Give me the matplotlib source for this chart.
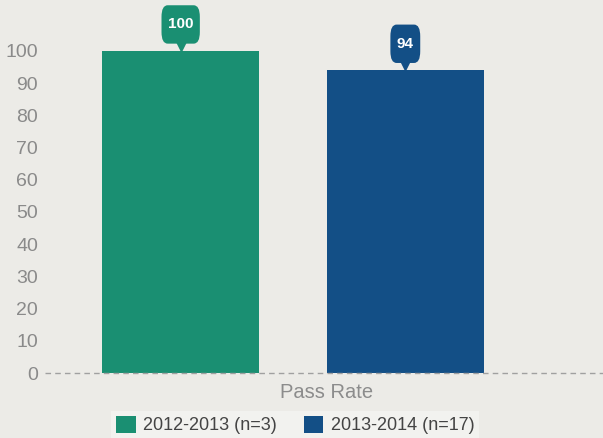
import matplotlib.pyplot as plt
import matplotlib.transforms as mtransforms
from matplotlib.patches import Patch

years = ['2012-2013 (n=3)', '2013-2014 (n=17)']
pass_rate = [100, 94]
colors = ['#1a8f72', '#134f86']
yticks = list(range(0, 101, 10))

plt.rcParams['font.family'] = ['Liberation Sans', 'DejaVu Sans']

bg = '#ecebe7'
fig = plt.figure(figsize=(6.03, 4.38), dpi=100, facecolor=bg)
ax = fig.add_axes([0.0746, 0.1484, 0.9254, 0.8516])
ax.set_facecolor(bg)

xpos = [0, 1]
bars = ax.bar(xpos, pass_rate, width=0.70, color=colors)
ax.set_xlim(-0.604, 1.88)
ax.set_ylim(0, 115.8)

ax.set_yticks(yticks)
ax.set_yticklabels([str(t) for t in yticks], fontsize=14, color='#8a8a8a')
ax.tick_params(axis='y', length=0, pad=5)
ax.set_xticks([])
for s in ax.spines.values():
    s.set_visible(False)
ax.axhline(0, color='#a0a0a0', linestyle=(0, (4, 3)), linewidth=1, clip_on=False)

# callout boxes above each bar
tri_trans = mtransforms.offset_copy(ax.transData, fig=fig, x=0, y=6, units='dots')
for x, v, c in zip(xpos, pass_rate, colors):
    t = ax.annotate(str(v), xy=(x, v), xytext=(0, 14), textcoords='offset points',
                    ha='center', va='bottom', fontsize=11, fontweight='bold',
                    color='white', annotation_clip=False,
                    bbox=dict(boxstyle='round,pad=0.42,rounding_size=0.4', fc=c, ec='none',
                              mutation_aspect=1.9))
    ax.plot([x], [v], marker='v', markersize=9, color=c, transform=tri_trans,
            clip_on=False)

fig.text(327 / 603, 1 - 392 / 438, 'Pass Rate', ha='center', va='center',
         fontsize=14.5, color='#8c8c8c')

handles = [Patch(facecolor=c, edgecolor='none') for c in colors]
leg = fig.legend(handles, years, loc='center', ncol=2,
                 bbox_to_anchor=(295 / 603, 1 - 425 / 438),
                 fontsize=13, frameon=True, fancybox=False,
                 handlelength=1.1, handleheight=1.1, handletextpad=0.4,
                 columnspacing=1.5, borderpad=0.25, labelcolor='#444444')
leg.get_frame().set_facecolor('#f4f4f2')
leg.get_frame().set_edgecolor('none')

fig.savefig('out.png', dpi=100, facecolor=bg)
